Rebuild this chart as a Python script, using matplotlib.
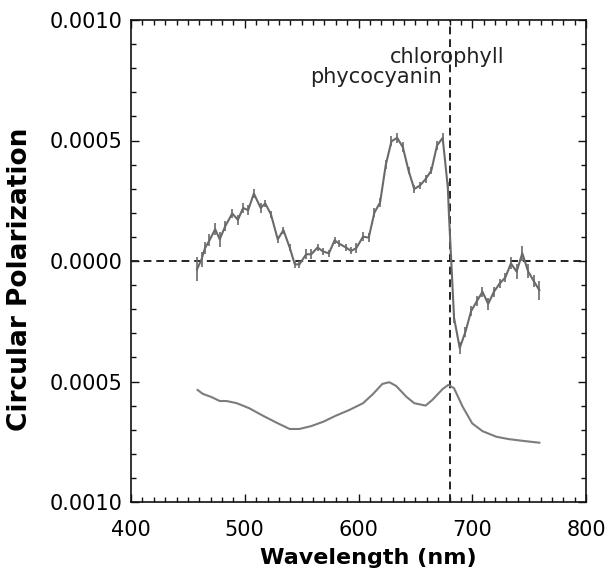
import numpy as np
import matplotlib
matplotlib.use("Agg")
import matplotlib.pyplot as plt
from matplotlib.ticker import MultipleLocator, FuncFormatter

# circular polarization spectrum, values in units of 1e-4
cd_wl = [458, 462, 465, 469, 474, 478, 483, 489, 494, 498.5, 503, 508, 514, 518,
         523, 529, 534, 539.5, 544, 548, 554, 558.5, 564, 569, 574, 579, 583, 589,
         593.5, 598, 604, 609, 614, 619, 624, 629, 634, 639, 644, 649, 654, 659,
         664, 669, 674, 678.5, 679.5, 684, 689, 694, 699, 704, 709, 714, 719, 724,
         729, 734, 739, 744, 749, 754, 759]
cd_e4 = [-0.35, 0.07, 0.53, 0.86, 1.32, 0.90, 1.46, 1.97, 1.71, 2.20, 2.11, 2.80,
         2.20, 2.39, 1.94, 0.90, 1.28, 0.56, -0.14, -0.14, 0.28, 0.28, 0.56, 0.39,
         0.32, 0.86, 0.72, 0.56, 0.42, 0.53, 1.01, 0.97, 2.01, 2.43, 4.00, 4.97,
         5.11, 4.72, 3.75, 2.99, 3.13, 3.40, 3.75, 4.79, 5.11, 3.06, 1.94, -2.36,
         -3.61, -2.94, -2.08, -1.67, -1.28, -1.78, -1.28, -0.94, -0.69, -0.10,
         -0.44, 0.32, -0.42, -0.83, -1.21]
cd_err_e4 = [0.5, 0.3, 0.25, 0.25, 0.25, 0.3, 0.2, 0.2, 0.2, 0.2, 0.2, 0.2, 0.2,
             0.15, 0.15, 0.15, 0.15, 0.15, 0.15, 0.15, 0.2, 0.2, 0.15, 0.15, 0.15,
             0.15, 0.15, 0.15, 0.15, 0.2, 0.2, 0.2, 0.2, 0.2, 0.2, 0.2, 0.2, 0.2,
             0.15, 0.15, 0.15, 0.15, 0.15, 0.2, 0.2, 0.2, 0.2, 0.2, 0.25, 0.2, 0.2,
             0.2, 0.2, 0.25, 0.2, 0.2, 0.2, 0.25, 0.3, 0.3, 0.3, 0.25, 0.4]

# absorption spectrum drawn in the lower part (axis units of 1e-4)
abs_wl = [458.5, 463, 471, 478, 484, 493, 504, 516, 528, 539.5, 548, 558.5, 569,
          580, 592, 604, 612.5, 621, 627, 633, 642, 649, 659, 665, 674, 679, 684,
          691.5, 700, 709, 721, 732, 744, 759]
abs_e4 = [-5.35, -5.51, -5.65, -5.81, -5.81, -5.90, -6.11, -6.42, -6.71, -6.97,
          -6.97, -6.85, -6.67, -6.42, -6.18, -5.90, -5.53, -5.10, -5.03, -5.18,
          -5.63, -5.90, -6.00, -5.76, -5.31, -5.14, -5.28, -6.04, -6.74, -7.06,
          -7.29, -7.39, -7.46, -7.54]

chlorophyll_wl = 680
x_ticks = [400, 500, 600, 700, 800]
y_ticks = [-0.0010, -0.0005, 0.0, 0.0005, 0.0010]

plt.rcParams['font.family'] = 'DejaVu Sans'

fig = plt.figure(figsize=(6.05, 5.70), dpi=100)
ax = fig.add_axes([131 / 605, 1 - 502 / 570, 455 / 605, 482 / 570])

gray = '#6a6a6a'
ax.errorbar(cd_wl, np.array(cd_e4) * 1e-4, yerr=np.array(cd_err_e4) * 1e-4,
            color=gray, lw=1.5, elinewidth=1.2, capsize=0, zorder=3)
ax.plot(abs_wl, np.array(abs_e4) * 1e-4, color='#7c7c7c', lw=1.5, zorder=3)

ax.axhline(0, color='#222222', lw=1.4, dashes=(4, 2.5), zorder=2)
ax.axvline(chlorophyll_wl, color='#222222', lw=1.4, dashes=(4, 2.5), zorder=2)

ax.text(678, 8.2e-4, 'chlorophyll', fontsize=15, ha='center', va='baseline',
        color='#222222')
ax.text(673.5, 7.37e-4, 'phycocyanin', fontsize=15, ha='right', va='baseline',
        color='#222222')

ax.set_xlim(400, 800)
ax.set_ylim(-0.0010, 0.0010)
ax.set_xticks(x_ticks)
ax.set_yticks(y_ticks)
ax.xaxis.set_minor_locator(MultipleLocator(10))
ax.yaxis.set_minor_locator(MultipleLocator(0.0001))
ax.yaxis.set_major_formatter(FuncFormatter(lambda v, p: f"{abs(v):.4f}"))

ax.tick_params(which='both', direction='in', top=True, right=True, width=1,
               color='#111111')
ax.tick_params(which='major', length=6, labelsize=15)
ax.tick_params(axis='x', which='major', pad=13)
ax.tick_params(axis='y', which='major', pad=6)
ax.tick_params(which='minor', length=3.3)
for s in ax.spines.values():
    s.set_linewidth(1.2)
    s.set_color('#111111')

ax.set_xlabel('Wavelength (nm)', fontsize=16, fontweight='bold')
ax.xaxis.set_label_coords(0.521, -0.095)
ax.xaxis.label.set_va('top')
ax.set_ylabel('Circular Polarization', fontsize=19, fontweight='bold')
ax.yaxis.set_label_coords(-0.215, 0.463)

fig.savefig('out.png', dpi=100)
